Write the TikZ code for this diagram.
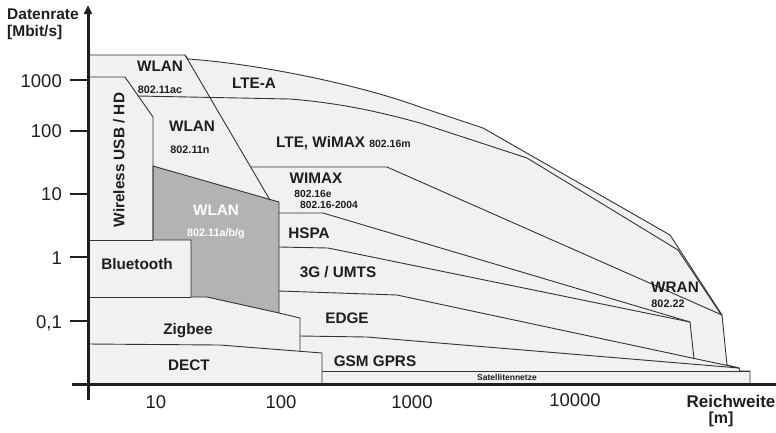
\documentclass[tikz,border=0pt]{standalone}
\usepackage{fontspec}
\setmainfont{Liberation Sans}
\usetikzlibrary{arrows.meta}
\definecolor{areafill}{HTML}{F0F1F3}
\definecolor{wlanfill}{HTML}{B2B3B5}
\definecolor{edgeink}{HTML}{333333}
\definecolor{ink}{HTML}{1E1E1E}
\tikzset{
  zone/.style={fill=areafill, draw=edgeink, line width=0.9pt, line join=round},
  bound/.style={draw=edgeink, line width=0.9pt, line join=round},
  axisline/.style={draw=ink, line width=3pt},
  scalemark/.style={draw=ink, line width=1.2pt},
  lblbig/.style={font=\bfseries\fontsize{15.3}{16}\selectfont, text=ink, inner sep=0pt, anchor=base},
  lblsub/.style={font=\bfseries\fontsize{10.8}{12}\selectfont, text=ink, inner sep=0pt, anchor=base},
  lblstd/.style={font=\bfseries\fontsize{10.3}{12}\selectfont, text=ink, inner sep=0pt, anchor=base},
  lblmini/.style={font=\bfseries\fontsize{8.5}{10}\selectfont, text=ink, inner sep=0pt, anchor=base},
  ynum/.style={font=\fontsize{18.5}{20}\selectfont, text=ink, inner sep=0pt, anchor=base east},
  xnum/.style={font=\fontsize{18.5}{20}\selectfont, text=ink, inner sep=0pt, anchor=base},
  axtitle/.style={font=\bfseries\fontsize{15.5}{17}\selectfont, text=ink, inner sep=0pt},
}
\begin{document}
\begin{tikzpicture}[x=1pt,y=-1pt]
\useasboundingbox (0,0) rectangle (776,432);

% overall coverage envelope
\path[zone] (88,55) -- (185,55) -- (188,59)
  .. controls (260,64) and (360,85) .. (420,107)
  -- (483,128) -- (670,235) -- (722,315) -- (727,365) -- (739,368)
  -- (740,371) -- (750,371) -- (750,384) -- (88,384) -- cycle;

% WLAN 802.11a/b/g area
\path[zone, fill=wlanfill] (153,166) -- (279,202) -- (279,313) -- (207,297)
  -- (191,297) -- (191,240) -- (153,240) -- cycle;

% boundaries between the technologies
\draw[bound] (185,55) -- (270,200);
\draw[bound] (88,77) -- (125,77) -- (153,117) -- (153,240);
\draw[bound] (138,96) -- (290,99) .. controls (340,103) and (380,112) .. (420,123)
  -- (527,158) -- (678,250) -- (720,313) -- (722,315);
\draw[bound] (251,167) -- (387,167) -- (722,315);
\draw[bound] (279,213) -- (323,213) -- (690,322) -- (694,359);
\draw[bound] (279,247) -- (328,248) -- (690,322);
\draw[bound] (279,291) -- (397,295) -- (739,368);
\draw[bound] (88,240) -- (153,240);
\draw[bound] (88,297) -- (191,297);
\draw[bound] (279,313) -- (300,318) -- (300,351);
\draw[bound] (300,336) -- (367,337) -- (739,368);
\draw[bound] (88,344) -- (220,345) -- (322,353) -- (322,384);
\draw[bound] (322,371) -- (750,371);

% axes
\draw[axisline] (72,384) -- (776,384);
\draw[axisline, -{Triangle[width=8pt,length=9pt]}] (88,400) -- (88,5);
\foreach \yy in {80,131,194,257,321} \draw[scalemark] (70,\yy) -- (88,\yy);

% axis texts
\node[ynum] (y1000) at (62,87) {1000};
\node[ynum] (y100) at (62,137.5) {100};
\node[ynum] (y10) at (62,200) {10};
\node[ynum] (y1) at (62,264) {1};
\node[ynum] (y01) at (62,328) {0,1};
\node[xnum] (x10) at (156,408) {10};
\node[xnum] (x100) at (281,408) {100};
\node[xnum] (x1000) at (412,408) {1000};
\node[xnum] (x10000) at (575,406) {10000};
\node[axtitle, anchor=base west] (ytitle1) at (7,19) {Datenrate};
\node[axtitle, anchor=base west] (ytitle2) at (7,36) {[Mbit/s]};
\node[axtitle, anchor=base, font=\bfseries\fontsize{17}{18}\selectfont] (xtitle1) at (731,407) {Reichweite};
\node[axtitle, anchor=base, font=\bfseries\fontsize{16}{18}\selectfont] (xtitle2) at (721,423) {[m]};

% technology labels
\node[lblbig] (wlanac) at (160,71) {WLAN};
\node[lblsub] (wlanacstd) at (160,93) {802.11ac};
\node[lblbig] (ltea) at (254,88) {LTE-A};
\node[lblbig] (wlann) at (192,131) {WLAN};
\node[lblsub] (wlannstd) at (190,153) {802.11n};
\node[lblbig, rotate=90, anchor=center] (wusb) at (119,160) {Wireless USB / HD};
\node[lblbig, anchor=base west] (lte) at (276,147) {LTE, WiMAX \fontsize{10.5}{12}\selectfont 802.16m};
\node[lblbig] (wimax) at (316,183) {WIMAX};
\node[lblstd] (wimaxe) at (313,197) {802.16e};
\node[lblstd] (wimax04) at (329,208) {802.16-2004};
\node[lblbig, text=white] (wlanabg) at (216,215) {WLAN};
\node[lblsub, text=white] (wlanabgstd) at (216,236) {802.11a/b/g};
\node[lblbig] (bt) at (137,269) {Bluetooth};
\node[lblbig] (zigbee) at (188,334) {Zigbee};
\node[lblbig] (dect) at (189,370) {DECT};
\node[lblbig] (hspa) at (309,238) {HSPA};
\node[lblbig] (umts) at (338,277) {3G / UMTS};
\node[lblbig] (edge) at (347,323) {EDGE};
\node[lblbig] (gsm) at (375,366) {GSM GPRS};
\node[lblmini] (sat) at (507,380) {Satellitennetze};
\node[lblbig] (wran) at (675,292) {WRAN};
\node[lblsub] (wranstd) at (668,307) {802.22};
\end{tikzpicture}
\end{document}
